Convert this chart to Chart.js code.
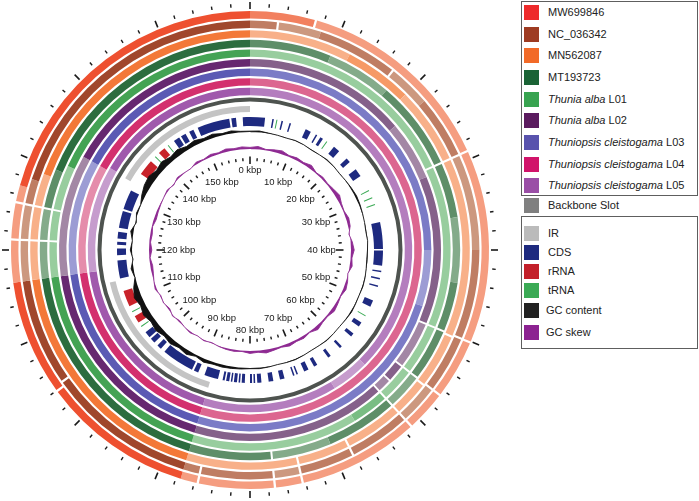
<!DOCTYPE html>
<html>
<head>
<meta charset="utf-8">
<script src="https://cdn.jsdelivr.net/npm/chart.js@4.4.0/dist/chart.umd.min.js"></script>
<style>
  body { margin: 0; background: #fff; font-family: "Liberation Sans", Arial, sans-serif; }
  #wrap { position: relative; width: 699px; height: 501px; overflow: hidden; }
  canvas { position: absolute; left: 0; top: 0; }
  .box { position: absolute; left: 521px; width: 175px; border: 1px solid #5e5e5e; }
  .item { position: absolute; left: 524px; height: 15px; font-size: 11px; color: #222; white-space: nowrap; }
  .item .sw { position: absolute; left: 0; top: 0; width: 15px; height: 15px; }
  .item .tx { position: absolute; left: 24px; top: 0; line-height: 15px; }
</style>
</head>
<body>
<div id="wrap">
  <canvas id="rings" width="500" height="500"></canvas>
  <canvas id="skew" width="500" height="500"></canvas>
  <canvas id="gc" width="500" height="500"></canvas>
  <div class="box" style="top:1px;height:193px"></div>
  <div class="box" style="top:216px;height:131px"></div>
</div>
<script>
const genomeKbp = 160;
const windowStarts = Array.from({length: 80}, (_, i) => i * 2);

// identity rings, outer to inner: [segment end in kbp, level] level 0 dark, 1 mid, 2 light, 3 gap
const ringNames = ['MW699846', 'NC_036342', 'MN562087', 'MT193723', 'Thunia alba L01',
  'Thunia alba L02', 'Thuniopsis cleistogama L03', 'Thuniopsis cleistogama L04', 'Thuniopsis cleistogama L05'];
const ringShades = [
  ['#EE5030', '#F2805F', '#F59D80'],
  ['#A0472C', '#BF7D63', '#CC987F'],
  ['#F37838', '#F69A66', '#F8B089'],
  ['#2C6D3F', '#5E8E68', '#84AB8A'],
  ['#44A354', '#79BD83', '#98CD9E'],
  ['#662870', '#85618A', '#A387A5'],
  ['#5B5AB4', '#7B7BC6', '#9C9CD4'],
  ['#D3306E', '#DC6690', '#E58CAB'],
  ['#A059AC', '#B47DBE', '#C69CCD']
];
const segMW699846 = [[7,1],[7.25,3],[29,2],[29.25,3],[50,2],[50.25,3],[56.5,2],[56.75,3],[61,2],[61.25,3],[74.2,2],[74.45,3],[77.2,2],[77.45,3],[85.5,2],[85.75,3],[87.5,2],[103.8,0],[104.05,3],[116.5,0],[121,2],[121.25,3],[125,2],[125.25,3],[127,2],[160,0]];
const segNC036342 = [[3,1],[3.25,3],[8,2],[17,1],[17.25,3],[22,2],[29,1],[29.25,3],[40,2],[50,1],[50.25,3],[56.5,1],[56.75,3],[61,2],[61.25,3],[68,1],[68.25,3],[74.2,1],[74.45,3],[77.2,2],[77.45,3],[85.5,1],[85.75,3],[87.5,1],[104.3,0],[104.55,3],[116.5,0],[121,2],[121.25,3],[125,2],[125.25,3],[128,1],[160,0]];
const segMN562087 = [[12,2],[20,1],[29,2],[29.25,3],[50.2,2],[50.45,3],[56.7,2],[56.95,3],[61,2],[61.25,3],[68,2],[68.25,3],[74.2,2],[74.45,3],[87.5,2],[116.5,0],[121,2],[121.25,3],[125,2],[125.25,3],[129,2],[160,0]];
const segMT193723 = [[10,1],[18,2],[29,1],[29.25,3],[36,1],[44,2],[50,1],[50.25,3],[56.5,1],[56.75,3],[61,2],[61.25,3],[70,1],[77.2,2],[77.45,3],[87.5,1],[116.5,0],[121,2],[121.25,3],[125,2],[125.25,3],[130,1],[160,0]];
const segL01 = [[29,2],[29.25,3],[50,2],[50.25,3],[56.5,2],[56.75,3],[61,2],[61.25,3],[66,1],[87.5,2],[116.5,0],[121,2],[121.25,3],[125,2],[125.25,3],[131,2],[160,0]];
const segL02 = [[22,1],[30,2],[50,1],[50.25,3],[56.5,2],[56.75,3],[59,1],[59.25,3],[61,2],[61.25,3],[87.5,1],[116.5,0],[133,2],[160,0]];
const segL03 = [[40,1],[48,2],[87.5,1],[116.5,0],[133,2],[160,0]];
const segL04 = [[87.5,1],[116.5,0],[133,2],[160,0]];
const segL05 = [[60,1],[66,2],[87.5,1],[116.5,0],[133.5,2],[160,0]];
const ringSegments = [segMW699846, segNC036342, segMN562087, segMT193723, segL01, segL02, segL03, segL04, segL05];

const irRegions = [[87.5, 114.2], [133.3, 160]];

// annotated features [start kbp, end kbp, type]
const features = [
  [0, 2.9, 'CDS'], [4.3, 4.6, 'CDS'], [5.1, 5.3, 'tRNA'], [6.1, 6.4, 'CDS'], [7.7, 8.0, 'CDS'],
  [11.0, 12.1, 'CDS'], [13.2, 13.5, 'CDS'], [14.2, 14.8, 'CDS'], [15.6, 15.8, 'tRNA'], [17.4, 18.7, 'CDS'],
  [20.7, 21.6, 'CDS'], [23.4, 25.0, 'CDS'], [28.1, 28.3, 'tRNA'], [29.6, 29.8, 'tRNA'], [31.0, 31.2, 'tRNA'],
  [34.6, 39.8, 'CDS'], [40.1, 43.0, 'CDS'], [44.0, 44.3, 'CDS'], [45.4, 45.7, 'CDS'], [46.9, 47.2, 'CDS'],
  [49.9, 51.2, 'CDS'], [53.1, 53.3, 'tRNA'], [54.7, 55.6, 'CDS'], [57.3, 58.0, 'CDS'], [60.6, 61.1, 'CDS'],
  [63.4, 64.0, 'CDS'], [66.5, 67.2, 'CDS'], [68.4, 69.3, 'CDS'], [70.6, 70.9, 'CDS'], [71.3, 71.6, 'CDS'],
  [73.3, 74.2, 'CDS'], [75.5, 76.4, 'CDS'], [77.8, 78.6, 'CDS'], [79.0, 79.3, 'CDS'], [79.6, 80.0, 'CDS'],
  [81.0, 81.6, 'CDS'], [81.9, 82.2, 'CDS'], [82.5, 83.1, 'CDS'], [83.4, 83.7, 'CDS'], [84.0, 84.6, 'CDS'],
  [84.9, 85.3, 'CDS'], [86.2, 88.9, 'CDS'], [90.2, 91.1, 'CDS'], [91.5, 97.8, 'CDS'], [98.7, 99.6, 'CDS'],
  [100.4, 101.4, 'CDS'], [101.8, 103.0, 'CDS'], [104.3, 104.5, 'tRNA'], [105.3, 106.7, 'rRNA'], [107.6, 107.8, 'tRNA'],
  [108.9, 112.0, 'rRNA'], [114.5, 118.0, 'CDS'], [119.0, 120.3, 'CDS'], [121.0, 121.6, 'CDS'], [122.2, 123.5, 'CDS'],
  [124.3, 127.6, 'CDS'], [128.0, 131.8, 'CDS'], [135.5, 138.6, 'rRNA'], [139.7, 139.9, 'tRNA'], [140.8, 142.2, 'rRNA'],
  [143.0, 143.2, 'tRNA'], [144.5, 145.7, 'CDS'], [146.1, 147.1, 'CDS'], [147.9, 148.8, 'CDS'], [149.7, 156.0, 'CDS'],
  [156.4, 157.3, 'CDS'], [158.6, 160, 'CDS']
];
const featureColors = { CDS: '#1E2A80', rRNA: '#C8222A', tRNA: '#3BAA55' };

// 2 kbp windows
const gcContent = [
  0.375, 0.378, 0.372, 0.370, 0.368, 0.373, 0.371, 0.366, 0.369, 0.374,
  0.372, 0.368, 0.371, 0.375, 0.379, 0.376, 0.372, 0.369, 0.366, 0.370,
  0.367, 0.365, 0.368, 0.372, 0.374, 0.371, 0.373, 0.376, 0.372, 0.369,
  0.371, 0.374, 0.370, 0.368, 0.371, 0.374, 0.372, 0.369, 0.373, 0.376,
  0.374, 0.378, 0.381, 0.384, 0.382, 0.390, 0.378, 0.395, 0.386, 0.400,
  0.390, 0.405, 0.395, 0.410, 0.398, 0.412, 0.395, 0.372, 0.384, 0.366,
  0.380, 0.370, 0.386, 0.364, 0.378, 0.372, 0.390, 0.405, 0.412, 0.398,
  0.410, 0.395, 0.405, 0.390, 0.398, 0.386, 0.392, 0.380, 0.385, 0.376
];
const gcSkew = [
  0.020, 0.035, 0.010, 0.025, 0.040, 0.015, 0.030, 0.020, 0.045, 0.010,
  0.025, 0.015, 0.030, 0.050, 0.020, 0.010, 0.035, 0.025, -0.010, 0.020,
  0.040, 0.015, 0.030, -0.005, 0.020, 0.035, 0.010, 0.025, 0.040, 0.015,
  0.020, 0.045, 0.010, 0.030, 0.020, 0.035, 0.015, 0.025, 0.040, 0.020,
  0.030, 0.010, 0.020, 0.015, 0.005, -0.010, 0.010, -0.005, 0.015, 0.000,
  -0.015, 0.010, -0.020, 0.005, -0.010, 0.020, 0.000, -0.020, -0.030, -0.010,
  -0.035, -0.015, -0.025, -0.010, -0.030, -0.020, -0.010, 0.000, 0.015, -0.010,
  0.020, 0.005, -0.005, 0.025, 0.010, 0.030, 0.015, 0.035, 0.020, 0.030
];

const legendLabels = ['MW699846', 'NC_036342', 'MN562087', 'MT193723', '<i>Thunia alba</i> L01', '<i>Thunia alba</i> L02',
  '<i>Thuniopsis cleistogama</i> L03', '<i>Thuniopsis cleistogama</i> L04', '<i>Thuniopsis cleistogama</i> L05',
  'Backbone Slot', 'IR', 'CDS', 'rRNA', 'tRNA', 'GC content', 'GC skew'];
const legendColors = ['#EE2A2B', '#9E3B22', '#F26A28', '#1A6335', '#38A350', '#5B1B5F', '#5953AD', '#D1146A', '#9A4EA6',
  '#808080', '#BBBBBB', '#1E2A7F', '#C3202A', '#3BAA55', '#222222', '#8C2291'];
const legendTops = [5, 27, 48, 70, 92, 113, 135, 157, 178, 198, 226, 245, 264, 283, 303, 325];

const wrap = document.getElementById('wrap');
legendLabels.forEach((lab, i) => {
  const d = document.createElement('div');
  d.className = 'item';
  d.style.top = legendTops[i] + 'px';
  d.innerHTML = '<span class="sw" style="background:' + legendColors[i] + '"></span><span class="tx"' +
    (i >= 14 ? ' style="left:22px"' : '') + '>' + lab + '</span>';
  wrap.appendChild(d);
});

const clear = 'rgba(0,0,0,0)';
function segLengths(ends) {
  let prev = 0;
  return ends.map(e => { const d = e - prev; prev = e; return +d.toFixed(3); });
}
function ring(label, data, colors, weight) {
  return { label, data, backgroundColor: colors, weight, borderWidth: 0, hoverBorderWidth: 0, hoverOffset: 0 };
}
function spacer(weight) {
  return ring('', [genomeKbp], [clear], weight);
}

const datasets = [];
ringSegments.forEach((segs, k) => {
  datasets.push(ring(ringNames[k], segLengths(segs.map(s => s[0])),
    segs.map(s => s[1] === 3 ? clear : ringShades[k][s[1]]), 7.4));
  datasets.push(spacer(k < 8 ? 2.2 : 2.3));
});
datasets.push(ring('Backbone Slot', [genomeKbp], ['#4E534F'], 4));
datasets.push(spacer(4.5));

const irEnds = [], irCols = [];
let pos = 0;
irRegions.forEach(([a, b]) => {
  if (a > pos) { irEnds.push(a); irCols.push(clear); }
  irEnds.push(b); irCols.push('#C4C4C4'); pos = b;
});
if (pos < genomeKbp) { irEnds.push(genomeKbp); irCols.push(clear); }
datasets.push(ring('IR', segLengths(irEnds), irCols, 6));
datasets.push(spacer(5));

const featEnds = [], featCols = [];
pos = 0;
features.slice().sort((a, b) => a[0] - b[0]).forEach(([a, b, t]) => {
  if (a > pos) { featEnds.push(a); featCols.push(clear); }
  featEnds.push(b); featCols.push(featureColors[t]); pos = b;
});
if (pos < genomeKbp) { featEnds.push(genomeKbp); featCols.push(clear); }
datasets.push(ring('Features', segLengths(featEnds), featCols, 9));

new Chart(document.getElementById('rings'), {
  type: 'doughnut',
  data: { datasets },
  options: {
    responsive: false,
    animation: false,
    events: [],
    cutout: 124,
    layout: { padding: 11 },
    elements: { arc: { borderWidth: 0 } },
    plugins: { legend: { display: false }, tooltip: { enabled: false } }
  }
});

const kbpTicks = {
  id: 'kbpTicks',
  afterDraw(chart) {
    const scale = chart.scales.r;
    const ctx = chart.ctx;
    ctx.save();
    ctx.strokeStyle = '#1a1a1a';
    ctx.fillStyle = '#1a1a1a';
    ctx.font = '9.5px "Liberation Sans", Arial, sans-serif';
    ctx.textAlign = 'center';
    ctx.textBaseline = 'middle';
    chart.data.labels.forEach((kbp, i) => {
      const major = kbp % 10 === 0;
      const marks = major ? [[86, 93.5], [241, 248]] : [[89, 92], [243, 246.5]];
      ctx.lineWidth = major ? 1.6 : 1.4;
      marks.forEach(([a, b]) => {
        const p = scale.getPointPosition(i, a);
        const q = scale.getPointPosition(i, b);
        ctx.beginPath();
        ctx.moveTo(p.x, p.y);
        ctx.lineTo(q.x, q.y);
        ctx.stroke();
      });
      if (major) {
        const c = Math.abs(Math.cos(scale.getIndexAngle(i)));
        const d = 71.5 + 8.5 * Math.min(1, Math.max(0, (c - 0.9) / 0.1));
        const p = scale.getPointPosition(i, d);
        ctx.fillText(kbp + ' kbp', p.x, p.y);
      }
    });
    ctx.restore();
  }
};

function trackChart(id, label, values, baseline, color, min, max, plugins) {
  return new Chart(document.getElementById(id), {
    type: 'radar',
    data: {
      labels: windowStarts,
      datasets: [{ label, data: values, fill: { value: baseline },
        backgroundColor: color, borderColor: color, borderWidth: 0.9 }]
    },
    options: {
      responsive: false,
      animation: false,
      events: [],
      elements: { point: { radius: 0 }, line: { tension: 0 } },
      plugins: { legend: { display: false }, tooltip: { enabled: false } },
      scales: {
        r: {
          min, max,
          grid: { display: false, circular: true },
          angleLines: { display: false },
          ticks: { display: false },
          pointLabels: { display: false }
        }
      }
    },
    plugins
  });
}

trackChart('skew', 'GC skew', gcSkew, 0, '#8E2A92', -1.2625, 1.8625, []);
trackChart('gc', 'GC content', gcContent, 0.37, '#111111', -0.3241, 1.1465, [kbpTicks]);
</script>
</body>
</html>
